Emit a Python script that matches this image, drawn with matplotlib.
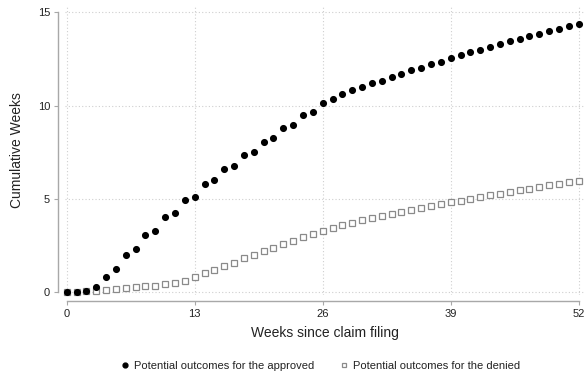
import matplotlib
matplotlib.use("Agg")
import matplotlib.pyplot as plt
import numpy as np

plt.rcParams['font.family'] = ['Liberation Sans', 'DejaVu Sans']

weeks = list(range(0, 53))
approved = [0.0, 0.0, 0.03, 0.29, 0.82, 1.21, 1.98, 2.30, 3.04, 3.29,
            4.00, 4.23, 4.91, 5.11, 5.80, 5.98, 6.59, 6.77, 7.34, 7.52,
            8.07, 8.25, 8.79, 8.95, 9.48, 9.63, 10.13, 10.37, 10.62, 10.82,
            11.00, 11.19, 11.34, 11.53, 11.68, 11.89, 12.02, 12.23, 12.35, 12.57,
            12.69, 12.87, 12.98, 13.16, 13.28, 13.46, 13.57, 13.75, 13.86, 14.00,
            14.12, 14.27, 14.39]
denied = [0.0, 0.0, 0.03, 0.07, 0.13, 0.16, 0.21, 0.25, 0.30, 0.34,
          0.41, 0.48, 0.61, 0.79, 1.00, 1.18, 1.41, 1.57, 1.82, 1.98,
          2.20, 2.36, 2.57, 2.74, 2.93, 3.09, 3.29, 3.43, 3.58, 3.70,
          3.84, 3.97, 4.08, 4.18, 4.29, 4.42, 4.49, 4.60, 4.70, 4.81,
          4.88, 4.99, 5.08, 5.19, 5.26, 5.35, 5.45, 5.54, 5.61, 5.72,
          5.79, 5.88, 5.97]
xticks = [0, 13, 26, 39, 52]
yticks = [0, 5, 10, 15]
labels = ["Potential outcomes for the approved", "Potential outcomes for the denied"]

W, H = 585, 377
fig = plt.figure(figsize=(W / 100, H / 100), dpi=100)
ax = fig.add_axes([64.7 / W, 1 - 295 / H, (584.6 - 64.7) / W, (295 - 5) / H])

ax.set_xlim(-0.2, 52.6)
ax.set_ylim(-0.16, 15.39)

h2, = ax.plot(weeks, denied, linestyle='none', marker='s', markersize=3.8,
              markerfacecolor='white', markeredgecolor='#8a8a8a', markeredgewidth=0.9,
              zorder=3, clip_on=False)
h1, = ax.plot(weeks, approved, linestyle='none', marker='o', markersize=4.1,
              color='black', zorder=4, clip_on=False)

ax.set_xticks(xticks)
ax.set_yticks(yticks)
ax.grid(True, color='#cfcfcf', linestyle=(0, (1, 2)), linewidth=0.8)
ax.set_axisbelow(True)

for s in ['top', 'right']:
    ax.spines[s].set_visible(False)
ax.spines['left'].set_position(('outward', 5))
ax.spines['bottom'].set_position(('outward', 4.3))
ax.spines['left'].set_bounds(0, 15)
ax.spines['bottom'].set_bounds(0, 52)
for s in ['left', 'bottom']:
    ax.spines[s].set_color('#a8a8a8')
    ax.spines[s].set_linewidth(1.0)

ax.tick_params(axis='both', direction='out', length=3, width=0.8, color='#a8a8a8',
               labelsize=8, labelcolor='#222222', pad=2.5)

ax.set_xlabel("Weeks since claim filing", fontsize=10, color='#222222', labelpad=5)
ax.set_ylabel("Cumulative Weeks", fontsize=10, color='#222222', labelpad=10)

fig.legend([h1, h2], labels, loc='center', bbox_to_anchor=(320 / W, 1 - 366 / H),
           ncol=2, frameon=False, fontsize=8, handletextpad=0.3, columnspacing=2.2,
           handlelength=1.0, markerscale=0.85, labelcolor='#222222')

fig.savefig("out.png", dpi=100)
